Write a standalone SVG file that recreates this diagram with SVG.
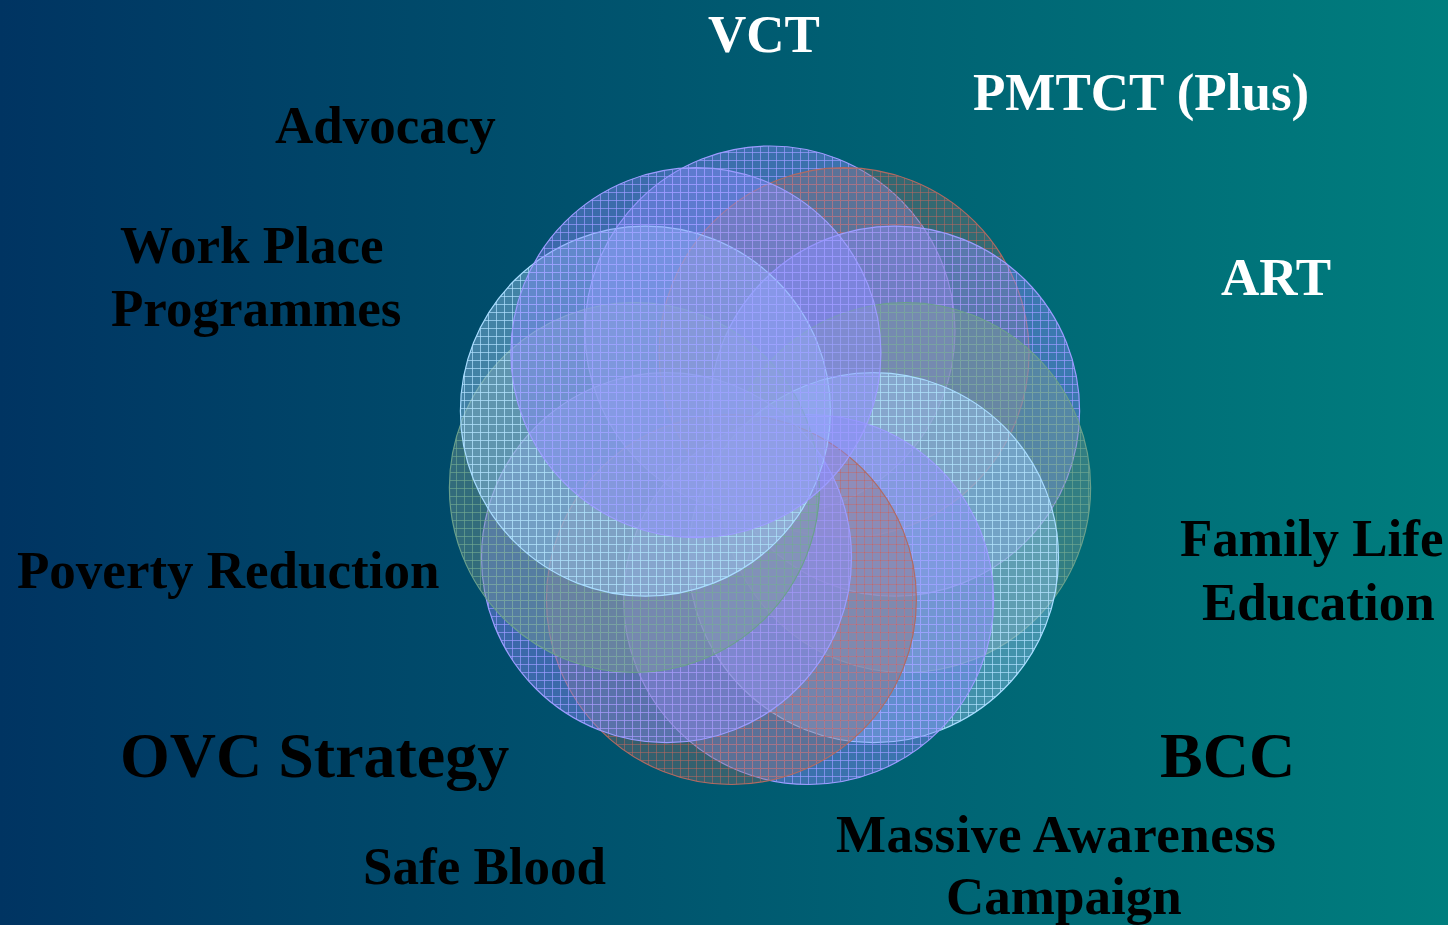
<svg xmlns="http://www.w3.org/2000/svg" width="1448" height="925" viewBox="0 0 1448 925">
<defs>
  <linearGradient id="bg" x1="0" y1="0" x2="1" y2="0">
    <stop offset="0" stop-color="#003462"/>
    <stop offset="1" stop-color="#007e7e"/>
  </linearGradient>
  <pattern id="pBlue" width="8" height="8" patternUnits="userSpaceOnUse">
    <rect width="8" height="8" fill="#8c8cff" fill-opacity="0.42"/>
    <path d="M0 0.5H8M0.5 0V8" stroke="#9a9aff" stroke-opacity="0.7" stroke-width="1"/>
  </pattern>
  <pattern id="pBrown" width="8" height="8" patternUnits="userSpaceOnUse">
    <rect width="8" height="8" fill="#9a746c" fill-opacity="0.34"/>
    <path d="M0 0.5H8M0.5 0V8" stroke="#b8665e" stroke-opacity="0.55" stroke-width="1"/>
  </pattern>
  <pattern id="pGreen" width="8" height="8" patternUnits="userSpaceOnUse">
    <rect width="8" height="8" fill="#7c9c94" fill-opacity="0.4"/>
    <path d="M0 0.5H8M0.5 0V8" stroke="#70a890" stroke-opacity="0.65" stroke-width="1"/>
  </pattern>
  <pattern id="pCyan" width="8" height="8" patternUnits="userSpaceOnUse">
    <rect width="8" height="8" fill="#9cccf6" fill-opacity="0.42"/>
    <path d="M0 0.5H8M0.5 0V8" stroke="#b0e0ff" stroke-opacity="0.7" stroke-width="1"/>
  </pattern>
</defs>
<style>
  .blue { fill: url(#pBlue); stroke: #9c9cff; stroke-width: 1.2; }
  .brown { fill: url(#pBrown); stroke: #b06a62; stroke-width: 1.2; }
  .green { fill: url(#pGreen); stroke: #6aa08c; stroke-width: 1.2; }
  .cyan { fill: url(#pCyan); stroke: #a8dcff; stroke-width: 1.2; }
  text { font-family: "Liberation Serif", "Times New Roman", serif; font-weight: bold; font-size: 53px; }
  .w { fill: #ffffff; }
  .k { fill: #000000; }
  .big { font-size: 64px; }
</style>
<rect width="1448" height="925" fill="url(#bg)"/>
<g id="rings">
  <g id="ring0"><circle class="blue" cx="770" cy="331" r="185"/></g>
  <g id="ring1"><circle class="brown" cx="844.1" cy="352.7" r="185"/></g>
  <g id="ring2"><circle class="blue" cx="894.6" cy="411.1" r="185"/></g>
  <g id="ring3"><circle class="green" cx="905.6" cy="487.5" r="185"/></g>
  <g id="ring4"><circle class="cyan" cx="873.5" cy="557.7" r="185"/></g>
  <g id="ring5"><circle class="blue" cx="808.6" cy="599.5" r="185"/></g>
  <g id="ring6"><circle class="brown" cx="731.4" cy="599.5" r="185"/></g>
  <g id="ring7"><circle class="blue" cx="666.5" cy="557.7" r="185"/></g>
  <g id="ring8"><circle class="green" cx="634.4" cy="487.5" r="185"/></g>
  <g id="ring9"><circle class="cyan" cx="645.4" cy="411.1" r="185"/></g>
  <g id="ring10"><circle class="blue" cx="695.9" cy="352.7" r="185"/></g>
</g>
<g id="labels">
  <g id="lbl-vct"><text class="w" x="708" y="52">VCT</text></g>
  <g id="lbl-pmtct"><text class="w" x="973" y="110">PMTCT (Plus)</text></g>
  <g id="lbl-advocacy"><text class="k" x="275" y="143">Advocacy</text></g>
  <g id="lbl-art"><text class="w" x="1221" y="295">ART</text></g>
  <g id="lbl-workplace"><text class="k" x="120" y="263">Work Place</text><text class="k" x="111" y="326">Programmes</text></g>
  <g id="lbl-family"><text class="k" x="1180" y="556">Family Life</text><text class="k" x="1202" y="620">Education</text></g>
  <g id="lbl-poverty"><text class="k" x="17" y="588">Poverty Reduction</text></g>
  <g id="lbl-ovc"><text class="k big" x="120" y="777">OVC Strategy</text></g>
  <g id="lbl-bcc"><text class="k big" x="1160" y="777">BCC</text></g>
  <g id="lbl-massive"><text class="k" x="836" y="852" textLength="440">Massive Awareness</text><text class="k" x="946" y="914">Campaign</text></g>
  <g id="lbl-safeblood"><text class="k" x="363" y="884">Safe Blood</text></g>
</g>
</svg>
